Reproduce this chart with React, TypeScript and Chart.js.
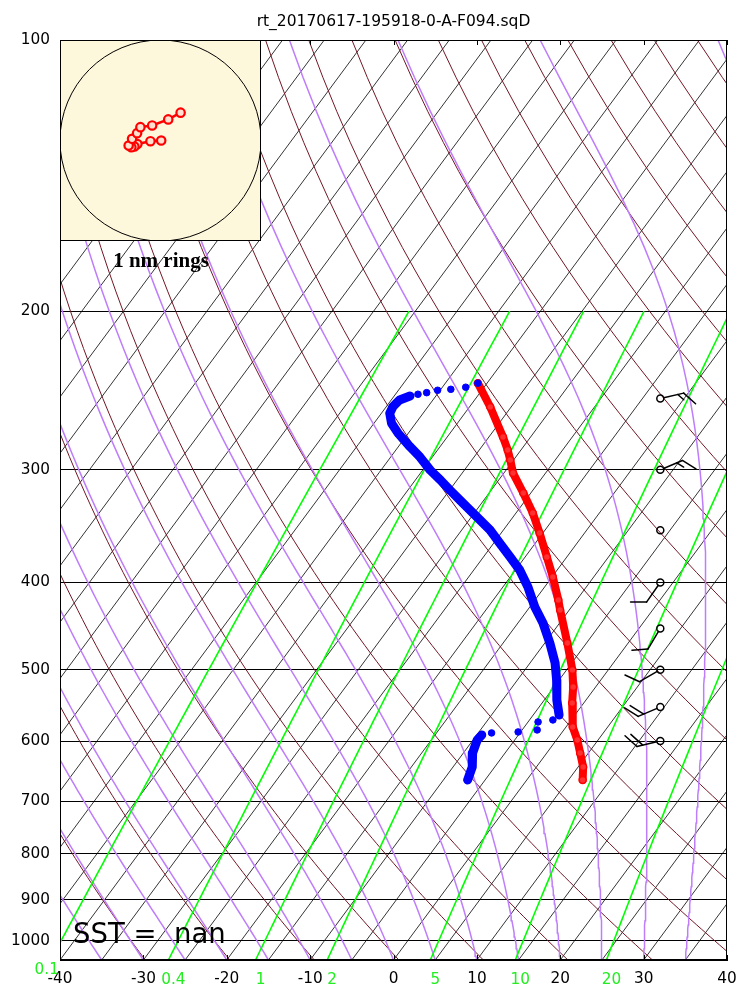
import React, { useEffect, useRef } from "react";
import { Chart, registerables } from "chart.js";
Chart.register(...registerables);

// ---------- chart constants / data ----------
const TITLE = "rt_20170617-195918-0-A-F094.sqD";
const P_TOP = 100;
const P_BOT = 1050;
const T_MIN = -40;
const T_MAX = 40;
const SKEW = 80; // degC shift per decade of pressure

const pressureTicks = [100, 200, 300, 400, 500, 600, 700, 800, 900, 1000];
const tempTicks = [-40, -30, -20, -10, 0, 10, 20, 30, 40];
const mixingRatios = [0.1, 0.4, 1, 2, 5, 10, 20];

// temperature profile (hPa, degC)
const tempP = [240.4, 255.5, 275.9, 285.1, 292.5, 302.5, 318.3, 334.9, 352.5, 374.8, 394.5, 418.4, 429.2, 467.0, 500.3, 522.5, 544.3, 578.7, 598.3, 618.5, 641.0, 662.7];
const tempT = [-41.1, -37.5, -33.3, -31.6, -30.4, -28.9, -25.9, -23.0, -20.4, -17.4, -14.9, -12.2, -11.1, -7.3, -4.3, -2.7, -1.4, 0.8, 2.5, 4.0, 5.6, 6.7];

// dewpoint, continuous upper part
const dewUpperP = [248.4, 250.9, 255.3, 259.6, 266.3, 273.3, 282.8, 290.3, 300.2, 307.9, 315.8, 324.0, 332.4, 341.0, 349.9, 361.7, 374.8, 387.5, 404.7, 425.9, 443.7, 467.0, 491.4, 513.3, 540.2, 561.3];
const dewUpperT = [-48.1, -49.0, -49.2, -49.0, -47.9, -46.2, -43.6, -41.5, -39.1, -37.0, -35.0, -32.9, -30.8, -28.7, -26.6, -24.3, -21.8, -19.5, -17.0, -14.4, -12.0, -9.4, -7.0, -5.3, -3.5, -1.9];
// dewpoint, continuous lower part
const dewLowerP = [590.7, 598.3, 618.5, 641.0, 662.7];
const dewLowerT = [-9.4, -9.5, -8.9, -7.7, -7.1];
// dewpoint, isolated observations
const dewDotsP = [240.4, 242.9, 244.2, 244.8, 246.3, 247.3, 568.5, 571.4, 583.2, 586.2, 587.7];
const dewDotsT = [-41.1, -42.2, -43.8, -45.3, -46.4, -47.3, -2.2, -3.8, -3.2, -5.3, -8.4];

// wind barbs
const windP = [250, 300, 350, 400, 450, 500, 550, 600];
const windDir = [77, 67, 0, 215, 211, 240, 247, 257];
const windSpd = [15, 15, 0, 10, 10, 10, 20, 20];

// sonde drift track (nm east, nm north)
const driftX = [0.007, -0.1, -0.23, -0.26, -0.29, -0.317, -0.283, -0.233, -0.2, -0.083, 0.077, 0.2];
const driftY = [0, -0.007, -0.035, -0.06, -0.067, -0.05, 0.017, 0.073, 0.133, 0.15, 0.21, 0.277];

// ---------- physics helpers (background isopleths) ----------
const skewX = (t: number, p: number) => t + SKEW * Math.log10(P_BOT / p);

function satVap(tc: number) {
  return 6.112 * Math.exp((17.67 * tc) / (tc + 243.5));
}
function thetaE(T: number, p: number) {
  const es = satVap(T - 273.15);
  if (es > 0.8 * p) return 1e6;
  const rs = (0.622 * es) / (p - es);
  return T * Math.pow(1000 / p, 0.2857) * Math.exp((2.5e6 * rs) / (1005 * T));
}

function isotherm(t: number) {
  return [
    { x: skewX(t, P_BOT), y: P_BOT },
    { x: skewX(t, P_TOP), y: P_TOP },
  ];
}
function dryAdiabat(theta: number) {
  const pts = [];
  for (let p = P_BOT; p >= P_TOP - 0.01; p -= 10) {
    const t = theta * Math.pow(p / 1000, 0.2857) - 273.15;
    pts.push({ x: skewX(t, p), y: p });
  }
  return pts;
}
function moistAdiabat(t0: number) {
  const target = thetaE(t0 + 273.15, P_BOT);
  const pts = [];
  for (let p = P_BOT; p >= P_TOP - 0.01; p -= 10) {
    let lo = 120, hi = 340;
    for (let k = 0; k < 50; k++) {
      const mid = (lo + hi) / 2;
      if (thetaE(mid, p) > target) hi = mid;
      else lo = mid;
    }
    pts.push({ x: skewX((lo + hi) / 2 - 273.15, p), y: p });
  }
  return pts;
}
function dewFromMix(w: number, p: number) {
  const e = (w * p) / (622 + w);
  const l = Math.log(e / 6.112);
  return (243.5 * l) / (17.67 - l);
}
function mixLine(w: number) {
  const pts = [];
  for (let p = P_BOT; p >= 200 - 0.01; p -= 10) pts.push({ x: skewX(dewFromMix(w, p), p), y: p });
  return pts;
}

const range = (a: number, b: number, s: number) => {
  const r: number[] = [];
  for (let v = a; v <= b + 1e-9; v += s) r.push(v);
  return r;
};

const FONT = "'DejaVu Sans', sans-serif";

export default function App() {
  const mainRef = useRef<HTMLCanvasElement>(null);
  const hodoRef = useRef<HTMLCanvasElement>(null);

  useEffect(() => {
    const lineDs = (data: any[], color: string, width: number, order: number) => ({
      data,
      showLine: true,
      borderColor: color,
      borderWidth: width,
      pointRadius: 0,
      fill: false,
      tension: 0,
      order,
    });

    const datasets: any[] = [];
    // sounding
    datasets.push({
      data: tempP.map((p, i) => ({ x: skewX(tempT[i], p), y: p })),
      showLine: true,
      borderColor: "#ff0000",
      borderWidth: 8,
      pointRadius: 3.5,
      pointBorderColor: "#ff0000",
      pointBackgroundColor: "#ff3030",
      pointBorderWidth: 1.5,
      borderJoinStyle: "round",
      borderCapStyle: "round",
      order: 1,
    });
    for (const [P, T] of [
      [dewUpperP, dewUpperT],
      [dewLowerP, dewLowerT],
    ] as number[][][]) {
      datasets.push({
        data: P.map((p, i) => ({ x: skewX(T[i], p), y: p })),
        showLine: true,
        borderColor: "#0000ff",
        borderWidth: 9,
        pointRadius: 3.5,
        pointBorderWidth: 1,
        pointBorderColor: "#0000ff",
        pointBackgroundColor: "#0000ff",
        borderJoinStyle: "round",
        borderCapStyle: "round",
        order: 0,
      });
    }
    datasets.push({
      data: dewDotsP.map((p, i) => ({ x: skewX(dewDotsT[i], p), y: p })),
      showLine: false,
      pointRadius: 3.3,
      pointBorderWidth: 1,
      pointBorderColor: "#0000ff",
      pointBackgroundColor: "#0000ff",
      order: 0,
    });
    // background lines
    for (const w of mixingRatios) datasets.push(lineDs(mixLine(w), "#00ff00", 1.6, 10));
    for (const t of range(-40, 40, 5)) datasets.push(lineDs(moistAdiabat(t), "rgb(190,125,250)", 1.5, 11));
    for (const th of range(230, 460, 10)) datasets.push(lineDs(dryAdiabat(th), "rgb(115,22,35)", 1, 12));
    for (const t of range(-125, 40, 5)) datasets.push(lineDs(isotherm(t), "#000000", 0.8, 13));

    const overlay = {
      id: "overlay",
      afterDraw(chart: any) {
        const { ctx, chartArea: a, scales } = chart;
        const xs = scales.x, ys = scales.y;
        ctx.save();
        // frame
        ctx.strokeStyle = "#000";
        ctx.lineWidth = 1;
        ctx.strokeRect(a.left + 0.5, a.top + 0.5, a.right - a.left - 1, a.bottom - a.top - 1);
        // inward x ticks
        for (const v of tempTicks) {
          const x = Math.round(xs.getPixelForValue(v)) + 0.5;
          ctx.beginPath();
          ctx.moveTo(x, a.bottom);
          ctx.lineTo(x, a.bottom - 5);
          ctx.moveTo(x, a.top);
          ctx.lineTo(x, a.top + 5);
          ctx.stroke();
        }
        // title
        ctx.fillStyle = "#000";
        ctx.font = `15.5px ${FONT}`;
        ctx.textAlign = "center";
        ctx.textBaseline = "middle";
        ctx.fillText(TITLE, (a.left + a.right) / 2, 22);
        // mixing ratio labels
        ctx.fillStyle = "#22ee22";
        ctx.font = `15.3px ${FONT}`;
        for (const w of mixingRatios) {
          const x = xs.getPixelForValue(skewX(dewFromMix(w, P_BOT), P_BOT));
          if (w === 0.1) ctx.fillText(String(w), x - 4, a.bottom + 10);
          else ctx.fillText(String(w), x + 5, a.bottom + 20);
        }
        // SST text
        ctx.fillStyle = "#000";
        ctx.font = `27.5px ${FONT}`;
        ctx.textAlign = "left";
        ctx.textBaseline = "alphabetic";
        ctx.fillText("SST =  nan", a.left + 13, ys.getPixelForValue(1000) + 2);
        // hodograph caption
        ctx.font = `bold 21px 'Liberation Serif', serif`;
        ctx.textAlign = "center";
        ctx.fillText("1 nm rings", a.left + 101, 267);
        // wind barbs
        const bxPix = a.left + 0.9 * (a.right - a.left);
        ctx.lineWidth = 1.5;
        ctx.lineCap = "round";
        windP.forEach((p, i) => {
          const x = bxPix, y = ys.getPixelForValue(p);
          ctx.beginPath();
          ctx.arc(x, y, 3.5, 0, Math.PI * 2);
          ctx.stroke();
          const spd = windSpd[i];
          if (spd < 2.5) return;
          const ang = (windDir[i] * Math.PI) / 180;
          const ux = Math.sin(ang), uy = -Math.cos(ang);
          const L = 24;
          const tx = x + ux * L, ty = y + uy * L;
          ctx.beginPath();
          ctx.moveTo(x + ux * 3.5, y + uy * 3.5);
          ctx.lineTo(tx, ty);
          ctx.stroke();
          const ba = Math.atan2(uy, ux) + (55 * Math.PI) / 180;
          const bx = Math.cos(ba), by = Math.sin(ba);
          let rem = Math.round(spd / 5) * 5;
          let pos = 0;
          while (rem >= 10) {
            const sx = tx - ux * pos, sy = ty - uy * pos;
            ctx.beginPath();
            ctx.moveTo(sx, sy);
            ctx.lineTo(sx + bx * 16, sy + by * 16);
            ctx.stroke();
            rem -= 10;
            pos += 6;
          }
          if (rem >= 5) {
            if (pos === 0) pos = 6;
            const sx = tx - ux * pos, sy = ty - uy * pos;
            ctx.beginPath();
            ctx.moveTo(sx, sy);
            ctx.lineTo(sx + bx * 8, sy + by * 8);
            ctx.stroke();
          }
        });
        ctx.restore();
      },
    };

    const chart = new Chart(mainRef.current!, {
      type: "scatter",
      data: { datasets },
      options: {
        animation: false,
        responsive: false,
        events: [],
        layout: { autoPadding: false, padding: { left: 0, top: 40, right: 23, bottom: 0 } },
        plugins: { legend: { display: false }, tooltip: { enabled: false }, title: { display: false } },
        scales: {
          x: {
            type: "linear",
            position: "bottom",
            min: T_MIN,
            max: T_MAX,
            afterFit: (s: any) => {
              s.height = 40;
            },
            afterBuildTicks: (s: any) => {
              s.ticks = tempTicks.map((v) => ({ value: v }));
            },
            ticks: {
              color: "#000",
              font: { family: FONT, size: 15.3 },
              padding: 10,
              maxRotation: 0,
              autoSkip: false,
              callback: (v: any) => String(v),
            },
            grid: { display: false, drawTicks: false },
            border: { display: true, color: "#000", width: 1 },
          },
          y: {
            type: "logarithmic",
            min: P_TOP,
            max: P_BOT,
            reverse: true,
            afterFit: (s: any) => {
              s.width = 60;
            },
            afterBuildTicks: (s: any) => {
              s.ticks = pressureTicks.map((v) => ({ value: v }));
            },
            ticks: {
              color: "#000",
              font: { family: FONT, size: 15.3 },
              padding: 10,
              autoSkip: false,
              callback: (v: any) => String(v),
            },
            grid: { color: "#000", lineWidth: 1, drawTicks: false },
            border: { display: true, color: "#000", width: 1 },
          },
        },
      },
      plugins: [overlay],
    } as any);

    // ---- drift inset ----
    const hodoBg = {
      id: "hodoBg",
      beforeDraw(c: any) {
        const { ctx, width, height, scales } = c;
        ctx.save();
        ctx.fillStyle = "#fdf7dc";
        ctx.fillRect(0, 0, width, height);
        const cx = scales.x.getPixelForValue(0), cy = scales.y.getPixelForValue(0);
        const r = scales.x.getPixelForValue(1) - cx;
        ctx.strokeStyle = "#000";
        ctx.lineWidth = 1;
        ctx.beginPath();
        ctx.arc(cx, cy, r, 0, Math.PI * 2);
        ctx.stroke();
        ctx.restore();
      },
      afterDraw(c: any) {
        const { ctx, width, height } = c;
        ctx.save();
        ctx.strokeStyle = "#000";
        ctx.lineWidth = 1;
        ctx.strokeRect(0.5, 0.5, width - 1, height - 1);
        ctx.restore();
      },
    };
    const hodo = new Chart(hodoRef.current!, {
      type: "scatter",
      data: {
        datasets: [
          {
            data: driftX.map((x, i) => ({ x, y: driftY[i] })),
            showLine: true,
            borderColor: "#ff0000",
            borderWidth: 2.5,
            pointRadius: 4.2,
            pointBorderWidth: 2.2,
            pointBorderColor: "#ff0000",
            pointBackgroundColor: "#fde0d0",
          },
        ],
      },
      options: {
        animation: false,
        responsive: false,
        events: [],
        layout: { autoPadding: false, padding: 0 },
        plugins: { legend: { display: false }, tooltip: { enabled: false } },
        scales: {
          x: { type: "linear", min: -1, max: 1, display: false },
          y: { type: "linear", min: -1, max: 1, display: false },
        },
      },
      plugins: [hodoBg],
    } as any);

    return () => {
      chart.destroy();
      hodo.destroy();
    };
  }, []);

  return (
    <div style={{ position: "absolute", left: 0, top: 0, width: 750, height: 1000, background: "#fff" }}>
      <canvas ref={mainRef} width={750} height={1000} style={{ position: "absolute", left: 0, top: 0, width: 750, height: 1000 }} />
      <canvas ref={hodoRef} width={201} height={201} style={{ position: "absolute", left: 60, top: 40, width: 201, height: 201 }} />
    </div>
  );
}
